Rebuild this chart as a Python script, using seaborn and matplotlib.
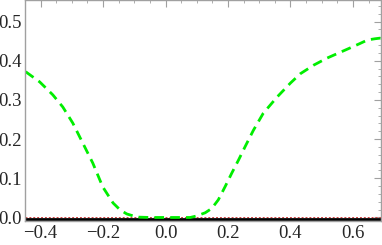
import matplotlib
matplotlib.use("Agg")
import matplotlib.pyplot as plt
from matplotlib.ticker import MultipleLocator
import pandas as pd
import seaborn as sns

# values
x_vals = [-0.448, -0.403, -0.361, -0.329, -0.297, -0.265, -0.233, -0.201,
          -0.168, -0.145, -0.124, -0.091, -0.05, 0.0, 0.05, 0.079, 0.1,
          0.127, 0.148, 0.169, 0.191, 0.212, 0.234, 0.255, 0.281, 0.313,
          0.358, 0.4, 0.432, 0.475, 0.518, 0.555, 0.592, 0.62, 0.647,
          0.67, 0.69]
green_vals = [0.372, 0.346, 0.313, 0.282, 0.241, 0.190, 0.139, 0.078,
              0.037, 0.019, 0.009, 0.001, 0.0, 0.0, 0.0, 0.0, 0.004,
              0.012, 0.023, 0.045, 0.079, 0.113, 0.147, 0.181, 0.222, 0.266,
              0.308, 0.343, 0.367, 0.389, 0.407, 0.42, 0.433, 0.443, 0.453,
              0.456, 0.458]
line_x = [-0.45, 0.69]
black_vals = [-0.004, -0.004]
red_vals = [0.0005, 0.0005]

df = pd.DataFrame({"x": x_vals, "y": green_vals})

sns.set_style("white")
plt.rcParams["font.family"] = ["Liberation Serif", "DejaVu Serif"]

fig = plt.figure(figsize=(3.82, 2.45), dpi=100)
ax = fig.add_axes([25 / 382, 24 / 245, 356 / 382, 221 / 245])

sns.lineplot(x=line_x, y=black_vals, color="black", lw=2.0, ax=ax)
sns.lineplot(x=line_x, y=red_vals, color="#d04040", lw=0.7,
             linestyle=(0, (2, 2)), ax=ax)
sns.lineplot(data=df, x="x", y="y", color="#00ee00", lw=2.0,
             linestyle=(0, (3.5, 2.2)), ax=ax)

ax.set_xlim(-0.45, 0.69)
ax.set_ylim(-0.009, 0.555)
ax.set_xlabel("")
ax.set_ylabel("")

ax.xaxis.set_major_locator(MultipleLocator(0.2))
ax.xaxis.set_minor_locator(MultipleLocator(0.05))
ax.yaxis.set_major_locator(MultipleLocator(0.1))
ax.yaxis.set_minor_locator(MultipleLocator(0.02))
ax.xaxis.set_major_formatter(lambda v, p: f"{v:.1f}".replace("-", "\u2212"))
ax.yaxis.set_major_formatter(lambda v, p: f"{v:.1f}")

for s in ax.spines.values():
    s.set_color("#a0a0a0")
    s.set_linewidth(1.0)
ax.tick_params(which="both", direction="in", top=True, right=True,
               color="#a0a0a0", labelsize=13.5)
ax.tick_params(axis="x", pad=3)
ax.tick_params(axis="y", pad=2)
ax.tick_params(which="major", length=5, width=0.8)
ax.tick_params(which="minor", length=2.5, width=0.6)

fig.savefig("out.png", dpi=100)
